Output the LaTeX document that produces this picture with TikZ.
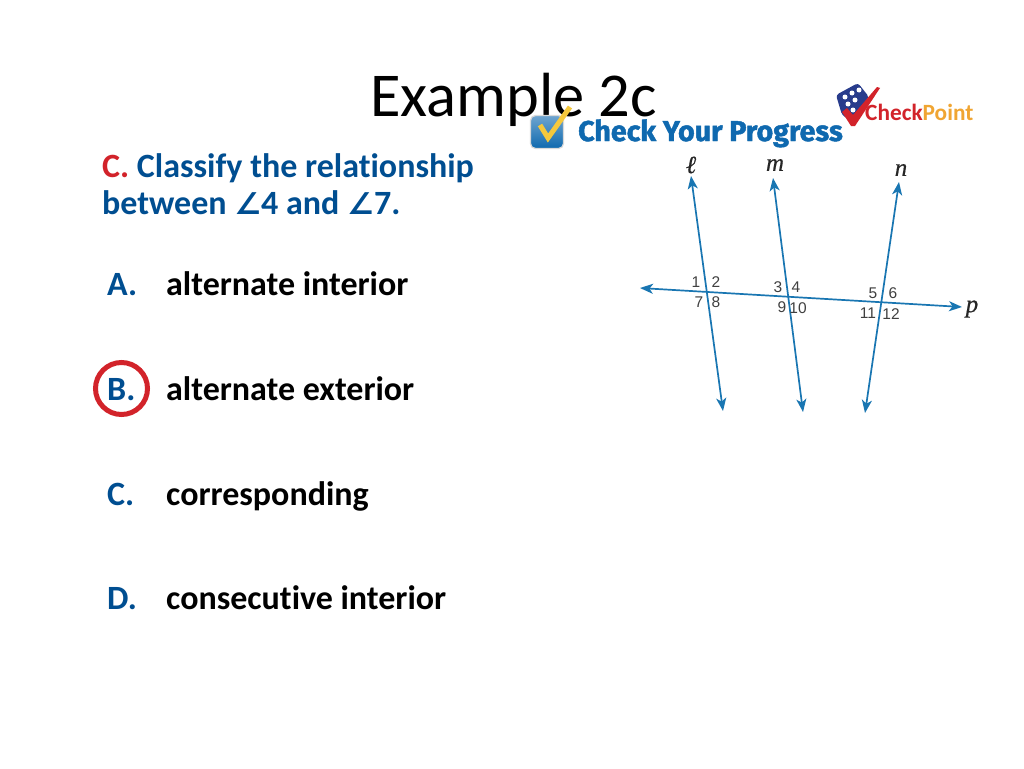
\documentclass[tikz,border=0pt]{standalone}
\usepackage{fontspec}
\setmainfont[Ligatures=CommonOff]{Carlito}
\newfontfamily\labelfont{Liberation Sans}
\newfontfamily\badgefont[FakeBold=1.6]{Fira Sans Bold}
\newfontfamily\namefont[FakeBold=0.4]{Liberation Serif Italic}
\newfontfamily\anglefont{DejaVu Sans}
\usetikzlibrary{arrows.meta}
\definecolor{slideblue}{RGB}{0,78,145}
\definecolor{slidered}{RGB}{210,35,42}
\definecolor{lineblue}{RGB}{25,118,178}
\definecolor{badgeblue}{RGB}{15,105,175}
\definecolor{pointorange}{RGB}{240,165,50}
\definecolor{logonavy}{RGB}{40,60,140}
\definecolor{tickyellow}{RGB}{245,200,60}
\newcommand{\angsym}{{\anglefont\fontsize{30}{30}\selectfont ∠}}
\tikzset{
	question/.style={anchor=base west,inner sep=0pt,font=\fontsize{34}{38}\selectfont\bfseries,text=slideblue},
	answer/.style={anchor=base west,inner sep=0pt,font=\fontsize{34}{38}\selectfont\bfseries,text=black},
	letter/.style={answer,text=slideblue},
	transversal/.style={draw=lineblue,line width=1.7pt,{Stealth[length=13pt,width=10pt,inset=3.5pt]}-{Stealth[length=13pt,width=10pt,inset=3.5pt]}},
	anglenum/.style={inner sep=0pt,font=\labelfont\fontsize{15.5}{16}\selectfont,text=black!75},
	linename/.style={inner sep=0pt,font=\namefont\fontsize{25}{25}\selectfont,text=black!85},
	logodot/.style={circle,fill=white,inner sep=0pt,minimum size=5pt}
}
\begin{document}
\begin{tikzpicture}[x=1pt,y=-1pt]
	\useasboundingbox[fill=white] (0,0) rectangle (1024,768);
	\node[anchor=base west,inner sep=0pt,font=\fontsize{62.4}{64}\selectfont] (title) at (370,116) {Example 2c};
	% question
	\node[question] (ask1) at (102,177) {\textcolor{slidered}{C.} Classify the relationship};
	\node[question] (ask2) at (102,214) {between \angsym 4 and \angsym 7.};
	\foreach \name/\txt/\ypos in {A/alternate interior/295,B/alternate exterior/400,C/corresponding/505,D/consecutive interior/609} {
		\node[letter] (let\name) at (107,\ypos) {\name.};
		\node[answer] (ans\name) at (166,\ypos) {\txt};
	}
	\node[circle,draw=slidered,line width=5pt,minimum size=52pt,inner sep=0pt] (ring) at (121.5,388.5) {};
	% lines
	\coordinate (ltop) at (691,176);
	\coordinate (lbot) at (723,411);
	\coordinate (mtop) at (773,178);
	\coordinate (mbot) at (803,412);
	\coordinate (ntop) at (899,182);
	\coordinate (nbot) at (865,413);
	\coordinate (pleft) at (640,288);
	\coordinate (pright) at (962,307);
	\draw[transversal] (ltop) -- (lbot);
	\draw[transversal] (mtop) -- (mbot);
	\draw[transversal] (ntop) -- (nbot);
	\draw[transversal] (pleft) -- (pright);
	\node[linename] (lname) at (691,165) {ℓ};
	\node[linename] (mname) at (775,165) {m};
	\node[linename] (nname) at (901,170) {n};
	\node[linename] (pname) at (972,309) {p};
	\foreach \num/\xpos/\ypos in {1/696/282,2/716/282,3/778/287,4/796/287,5/873/293,6/893/293,
		7/699/302,8/716/302,9/782/307,10/798/308,11/868/313,12/891/314} {
		\node[anglenum] (num\num) at (\xpos,\ypos) {\num};
	}
	% check your progress badge
	\node[rounded corners=5pt,top color=badgeblue!60,bottom color=badgeblue,draw=black!15,line width=1.2pt,minimum size=33pt,inner sep=0pt] (box) at (547,132) {};
	\draw[line width=5pt,draw=tickyellow] (540,125) -- (548,138) -- (570,107);
	\node[anchor=base west,inner sep=0pt,font=\badgefont\fontsize{28.6}{30}\selectfont,text=badgeblue] (prog) at (578,141) {Check Your Progress};
	% checkpoint logo
	\fill[logonavy,rounded corners=3pt] (836,95) -- (858,83) -- (869,97) -- (853,122) -- (842,115) -- cycle;
	\foreach \xpos/\ypos in {845/97,852/93,859/90,848/104,855/100,853/110} {
		\node[logodot] at (\xpos,\ypos) {};
	}
	\fill[slidered] (842,112) -- (847,108) -- (853,115) -- (877,87) -- (880,88) -- (855,126) -- (851,126) -- cycle;
	\node[anchor=base west,inner sep=0pt,font=\fontsize{23.3}{24}\selectfont\bfseries] (cpoint) at (865,120) {\textcolor{slidered}{Check}\textcolor{pointorange}{Point}};
\end{tikzpicture}
\end{document}
